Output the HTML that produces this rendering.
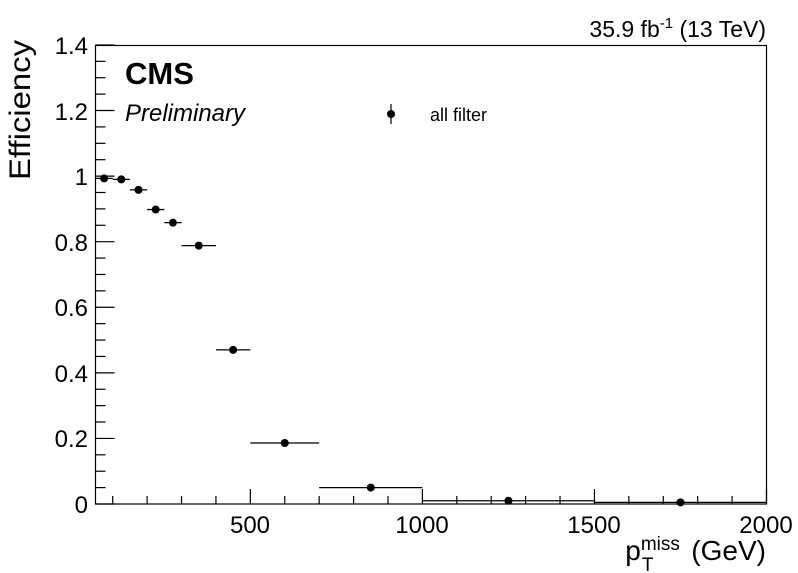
<!DOCTYPE html>
<html><head><meta charset="utf-8"><style>
html,body{margin:0;padding:0;background:#fff;}
svg{display:block;font-family:"Liberation Sans",Arial,sans-serif;}
</style></head><body>
<svg id="s" width="798" height="573" viewBox="0 0 798 573" xmlns="http://www.w3.org/2000/svg">
<rect x="0" y="0" width="798" height="573" fill="#fff"/>
<rect x="95.5" y="45.5" width="671" height="458.5" fill="none" stroke="#000" stroke-width="1.2"/>
<g id="ticks" stroke="#000" stroke-width="1.2"></g>
<g id="data"></g>
<g font-size="24" fill="#000">
<text x="88" y="513" text-anchor="end">0</text>
<text x="88" y="447" text-anchor="end">0.2</text>
<text x="88" y="382" text-anchor="end">0.4</text>
<text x="88" y="316" text-anchor="end">0.6</text>
<text x="88" y="251" text-anchor="end">0.8</text>
<text x="88" y="185" text-anchor="end">1</text>
<text x="88" y="120" text-anchor="end">1.2</text>
<text x="88" y="54" text-anchor="end">1.4</text>
<text x="250" y="533" text-anchor="middle">500</text>
<text x="422" y="533" text-anchor="middle">1000</text>
<text x="594" y="533" text-anchor="middle">1500</text>
<text x="766" y="533" text-anchor="middle">2000</text>
</g>
<text x="30" y="40" font-size="30" transform="rotate(-90 30 40)" text-anchor="end" textLength="140" lengthAdjust="spacingAndGlyphs">Efficiency</text>
<text x="766" y="560" font-size="28" text-anchor="end">p<tspan font-size="19" dy="-10">miss</tspan><tspan font-size="19" dx="-38" dy="21">T</tspan><tspan dx="30" dy="-11"> (GeV)</tspan></text>
<text x="766" y="37" font-size="23" text-anchor="end">35.9 fb<tspan font-size="15" dy="-9">-1</tspan><tspan dy="9"> (13 TeV)</tspan></text>
<text x="125" y="84" font-size="31" font-weight="bold">CMS</text>
<text x="125" y="121" font-size="24" font-style="italic">Preliminary</text>
<line x1="391" y1="104" x2="391" y2="124" stroke="#000" stroke-width="1.2"/>
<circle cx="391" cy="114" r="4" fill="#000"/>
<text x="430" y="121" font-size="18">all filter</text>
</svg>
<script>
const ns="http://www.w3.org/2000/svg";
const X=v=>95.5+(v-50)*0.3441, Y=v=>504-v*327.9;
const t=document.getElementById('ticks');
function ln(g,x1,y1,x2,y2){const l=document.createElementNS(ns,'line');l.setAttribute('x1',x1);l.setAttribute('y1',y1);l.setAttribute('x2',x2);l.setAttribute('y2',y2);g.appendChild(l);}
for(let v=100;v<=2000;v+=100){const x=X(v);ln(t,x,504,x,504-(v%500==0?15:8));}
for(let i=0;i<=28;i++){const y=Y(i*0.05);ln(t,95.5,y,95.5+(i%4==0?19:10),y);}
const d=document.getElementById('data');d.setAttribute('stroke','#000');d.setAttribute('stroke-width','1.3');
const pts=[[50,100,.993],[100,150,.99],[150,200,.958],[200,250,.898],[250,300,.858],[300,400,.788],[400,500,.47],[500,700,.186],[700,1000,.05],[1000,1500,.01],[1500,2000,.005]];
pts.forEach(p=>{const y=Y(p[2]);ln(d,X(p[0]),y,X(p[1]),y);ln(d,X((p[0]+p[1])/2),y-3,X((p[0]+p[1])/2),y+3);
const c=document.createElementNS(ns,'circle');c.setAttribute('cx',X((p[0]+p[1])/2));c.setAttribute('cy',y);c.setAttribute('r',4);c.setAttribute('fill','#000');c.setAttribute('stroke','none');d.appendChild(c);});
</script>
</body></html>
